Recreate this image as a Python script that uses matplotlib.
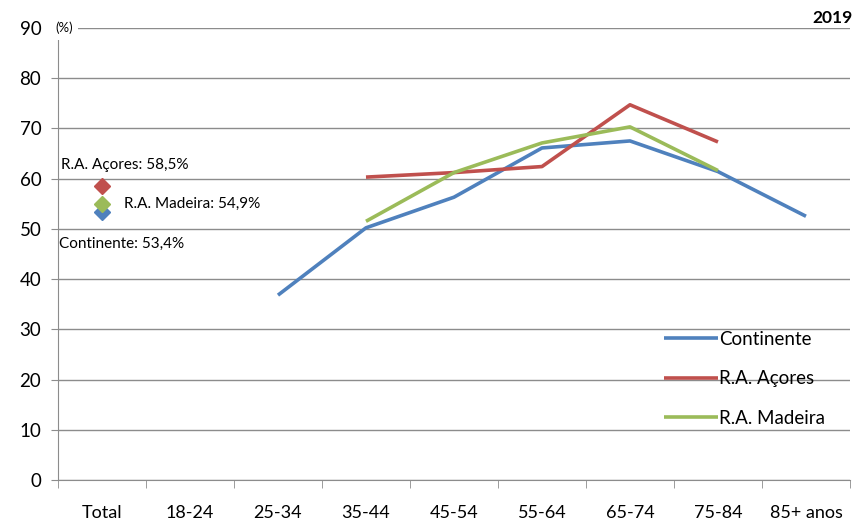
import numpy as np
from matplotlib import pyplot as plt

plt.rcParams['font.family'] = ['Lato', 'DejaVu Sans']

# --- Data ---
categories = ['Total', '18-24', '25-34', '35-44', '45-54', '55-64', '65-74', '75-84', '85+ anos']
continente = [np.nan, np.nan, 36.8, 50.2, 56.3, 66.1, 67.5, 61.4, 52.5]
acores = [np.nan, np.nan, np.nan, 60.3, 61.2, 62.4, 74.7, 67.3, np.nan]
madeira = [np.nan, np.nan, np.nan, 51.5, 61.2, 67.1, 70.3, 61.6, np.nan]
total_vals = {'Continente': 53.4, 'R.A. Açores': 58.5, 'R.A. Madeira': 54.9}

colors = {'Continente': '#4F81BD', 'R.A. Açores': '#C0504D', 'R.A. Madeira': '#9BBB59'}


def pct(v):
    return f'{v:.1f}%'.replace('.', ',')


fig = plt.figure(figsize=(8.59, 5.22), dpi=100)
ax = fig.add_axes([0.0675, 0.0805, 0.922, 0.866])

x = np.arange(len(categories))
series = [('Continente', continente), ('R.A. Açores', acores), ('R.A. Madeira', madeira)]
for name, vals in series:
    ax.plot(x, vals, color=colors[name], lw=2.6, label=name, solid_capstyle='butt')

# Total markers (blue drawn first so it sits below)
for name in ['Continente', 'R.A. Madeira', 'R.A. Açores']:
    ax.plot(0, total_vals[name], marker='D', ms=8.5, color=colors[name], ls='')

ax.text(-0.47, 61.3, 'R.A. Açores: ' + pct(total_vals['R.A. Açores']),
        fontsize=11, va='bottom', ha='left')
ax.text(0.25, total_vals['R.A. Madeira'], 'R.A. Madeira: ' + pct(total_vals['R.A. Madeira']),
        fontsize=11, va='center', ha='left')
ax.text(-0.49, 47.1, 'Continente: ' + pct(total_vals['Continente']),
        fontsize=11, va='center', ha='left')

# --- Axes ---
ax.set_xlim(-0.5, len(categories) - 0.5)
ax.set_ylim(0, 90)
ax.set_yticks(np.arange(0, 91, 10))
ax.grid(axis='y', color='#8C8C8C', lw=1)
ax.set_axisbelow(True)
ax.set_xticks(x)
ax.set_xticklabels(categories, fontsize=13)
ax.tick_params(axis='x', length=0, pad=18)
ax.set_xticks(np.arange(-0.5, len(categories), 1), minor=True)
ax.tick_params(axis='x', which='minor', length=6, color='#8C8C8C', direction='out')
ax.tick_params(axis='y', labelsize=13.5, length=5, color='#8C8C8C', pad=7)
for s in ['top', 'right']:
    ax.spines[s].set_visible(False)
for s in ['left', 'bottom']:
    ax.spines[s].set_color('#8C8C8C')

ax.text(-0.43, 90, '(%)', fontsize=9.5, ha='center', va='center',
        bbox=dict(facecolor='white', edgecolor='none', pad=4), zorder=5)
fig.text(0.993, 0.965, '2019', fontsize=12.5, fontweight='bold', ha='right', va='center')

ax.legend(loc='lower right', bbox_to_anchor=(0.99, 0.08), frameon=False, fontsize=13.5,
          handlelength=2.9, handletextpad=0.05, labelspacing=1.2)

fig.savefig('out.png', dpi=100)
